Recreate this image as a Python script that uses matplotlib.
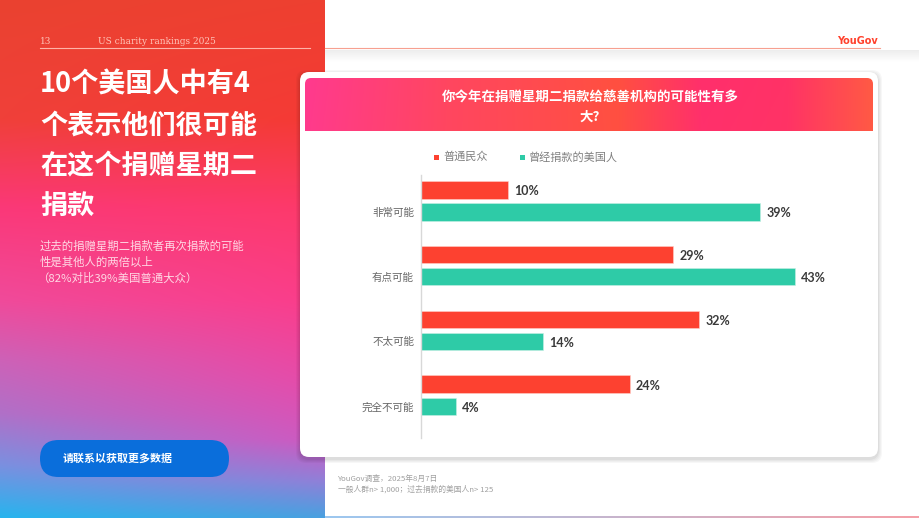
import numpy as np
import matplotlib
matplotlib.use("Agg")
import matplotlib.pyplot as plt
from matplotlib.patches import FancyBboxPatch, Rectangle
from matplotlib.colors import to_rgb

plt.rcParams['font.family'] = ['Noto Sans CJK SC', 'DejaVu Sans']

# ---- data ----
categories = ['非常可能', '有点可能', '不太可能', '完全不可能']
series_names = ['普通民众', '曾经捐款的美国人']
general_public = [10, 29, 32, 24]
past_donors = [39, 43, 14, 4]

title_lines = ['10个美国人中有4', '个表示他们很可能', '在这个捐赠星期二', '捐款']
subtitle_lines = ['过去的捐赠星期二捐款者再次捐款的可能', '性是其他人的两倍以上', '（82%对比39%美国普通大众）']
chart_title = '你今年在捐赠星期二捐款给慈善机构的可能性有多\n大?'
button_text = '请联系以获取更多数据'
footnote = 'YouGov调查，2025年8月7日\n一般人群n> 1,000；过去捐款的美国人n> 125'

RED = '#fd4130'
TEAL = '#2ecba7'

W, H = 920, 518
fig = plt.figure(figsize=(W / 100, H / 100), dpi=100)
bg = fig.add_axes([0, 0, 1, 1])
bg.set_xlim(0, W)
bg.set_ylim(H, 0)
bg.axis('off')


def vgrad(stops, n):
    ys = np.linspace(0, 1, n)
    pos = [s[0] for s in stops]
    cols = np.array([to_rgb(s[1]) for s in stops])
    return np.stack([np.interp(ys, pos, cols[:, k]) for k in range(3)], axis=1)


# ---- left gradient panel ----
hN, wN = 260, 160
leftc = vgrad([(0, '#ea4230'), (0.23, '#f0403a'), (0.40, '#fb3878'), (0.58, '#f04a9a'),
               (0.70, '#cc62b8'), (0.80, '#b070c8'), (0.90, '#7a90e0'), (1.0, '#28b4ee')], hN)
rightc = vgrad([(0, '#ee4030'), (0.23, '#f53a35'), (0.40, '#fd3a6a'), (0.58, '#fb3d8a'),
                (0.73, '#e84aa8'), (0.85, '#d058c0'), (0.93, '#9080d8'), (1.0, '#4aa0e0')], hN)
t = np.linspace(0, 1, wN)[None, :, None]
img = leftc[:, None, :] * (1 - t) + rightc[:, None, :] * t
bg.imshow(img, extent=(0, 325, H, 0), aspect='auto', zorder=0, interpolation='bilinear')

# right background faint shadow under header line
sh = np.linspace(0.93, 1.0, 30)[:, None, None] * np.ones((30, 2, 3))
bg.imshow(sh, extent=(325, W, 62, 50), aspect='auto', zorder=0.5)

# header lines & texts
bg.plot([40, 310], [48, 48], color='#ffb3a8', lw=0.8, zorder=2)
bg.plot([325, 880], [48, 48], color='#f7a090', lw=0.8, zorder=2)
bg.text(40, 42, '13', fontsize=6.5, family='DejaVu Serif', color='#ffc4b8', va='center', zorder=3)
bg.text(98, 42, 'US charity rankings 2025', fontsize=6.5, family='DejaVu Serif',
        color='#ffc4b8', va='center', zorder=3)
bg.text(878, 41, 'YouGov', fontsize=7, fontweight='bold', color='#ff412c',
        ha='right', va='center', family='DejaVu Sans', zorder=3)

# left title
for i, line in enumerate(title_lines):
    bg.text(40, 85 + i * 40.5, line, fontsize=19.5, fontweight='bold', color='white',
            va='center', ha='left', zorder=3)
for i, line in enumerate(subtitle_lines):
    bg.text(40 if i < 2 else 37, 246 + i * 16, line, fontsize=8.2, color='#ffd8e4',
            va='center', ha='left', zorder=3)

# button
btn = FancyBboxPatch((40, 440), 189, 37, boxstyle='round,pad=0,rounding_size=18.5',
                     fc='#0a6edb', ec='none', zorder=3)
bg.add_patch(btn)
bg.text(63, 459, button_text, fontsize=7.9, fontweight='bold', color='white',
        va='center', ha='left', zorder=4)

# card shadow + card
for k, a in enumerate([0.03, 0.03, 0.03, 0.04]):
    d = 4 - k
    bg.add_patch(FancyBboxPatch((300 - d, 72 - d + 2), 578 + 2 * d, 385 + 2 * d,
                                boxstyle='round,pad=0,rounding_size=10',
                                fc='black', ec='none', alpha=a, zorder=4))
card = FancyBboxPatch((300, 72), 578, 385, boxstyle='round,pad=0,rounding_size=9',
                      fc='white', ec='none', zorder=5)
bg.add_patch(card)

# card header gradient
xs = np.linspace(0, 1, 300)
hstops = [(0, '#ff3a8e'), (0.25, '#ff4660'), (0.55, '#ff5040'), (0.7, '#ff2f6c'),
          (0.85, '#ff3266'), (1.0, '#ff5a44')]
pos = [s[0] for s in hstops]
cols = np.array([to_rgb(s[1]) for s in hstops])
row = np.stack([np.interp(xs, pos, cols[:, k]) for k in range(3)], axis=1)
vy = np.linspace(0, 1, 40)[:, None, None]
himg = row[None, :, :] * (1 - 0.04 * vy) + 0.04 * vy * np.array(to_rgb('#ff4a5a'))
him = bg.imshow(himg, extent=(305, 873, 131, 78), aspect='auto', zorder=6)
clip = FancyBboxPatch((305, 78), 568, 60, boxstyle='round,pad=0,rounding_size=6',
                      fc='none', ec='none', transform=bg.transData)
bg.add_patch(clip)
him.set_clip_path(clip)
bg.add_patch(Rectangle((305, 131), 568, 10, fc='white', ec='none', zorder=6.5))
bg.text(590, 107, chart_title, fontsize=9.7, fontweight='bold', color='white',
        ha='center', va='center', linespacing=1.45, zorder=7)

# legend
bg.add_patch(Rectangle((434.5, 154.5), 5, 5, fc=RED, ec='none', zorder=7))
bg.text(443, 157, series_names[0], fontsize=8, color='#808080', va='center', zorder=7)
bg.add_patch(Rectangle((520.5, 154.5), 5, 5, fc=TEAL, ec='none', zorder=7))
bg.text(529, 157, series_names[1], fontsize=8, color='#808080', va='center', zorder=7)

# footnote
bg.text(338, 484, footnote, fontsize=5.6, color='#a0a0a0', va='center', ha='left',
        linespacing=1.3, zorder=3)

# bottom thin gradient line on right
bl = np.linspace(0, 1, 200)
blc = np.stack([np.interp(bl, [0, 1], [to_rgb('#9cc8f0')[k], to_rgb('#f5a0a8')[k]])
                for k in range(3)], axis=1)
bg.imshow(blc[None, :, :], extent=(325, W, H, H - 2), aspect='auto', zorder=2)

# ---- bar chart ----
px_per_unit = 8.7
ax = fig.add_axes([421 / W, 1 - 438 / H, 50 * px_per_unit / W, 263 / H], zorder=10)
ax.patch.set_alpha(0)
y = np.arange(len(categories))
off = 0.17
bh = 0.27
ax.barh(y - off, general_public, height=bh, color=RED, edgecolor='#ffd0c8', linewidth=0.4)
ax.barh(y + off, past_donors, height=bh, color=TEAL, edgecolor='#c8f0e4', linewidth=0.4)
vfont = ['Lato', 'DejaVu Sans']
for i in range(len(categories)):
    ax.text(general_public[i] + 0.7, y[i] - off + 0.02, f'{general_public[i]}%', fontsize=9,
            fontweight='bold', color='#3a3a3a', va='center', ha='left', family=vfont)
    ax.text(past_donors[i] + 0.7, y[i] + off + 0.02, f'{past_donors[i]}%', fontsize=9,
            fontweight='bold', color='#3a3a3a', va='center', ha='left', family=vfont)
ax.set_xlim(0, 50)
ax.set_ylim(3.66, -0.40)
ax.set_yticks(y + off)
ax.set_yticklabels(categories, fontsize=7.6, color='#666666')
ax.tick_params(axis='y', length=0, pad=5)
ax.set_xticks([])
for s in ['top', 'right', 'bottom']:
    ax.spines[s].set_visible(False)
ax.spines['left'].set_color('#d8d8d8')
ax.spines['left'].set_linewidth(1)

fig.savefig('out.png', dpi=100)
